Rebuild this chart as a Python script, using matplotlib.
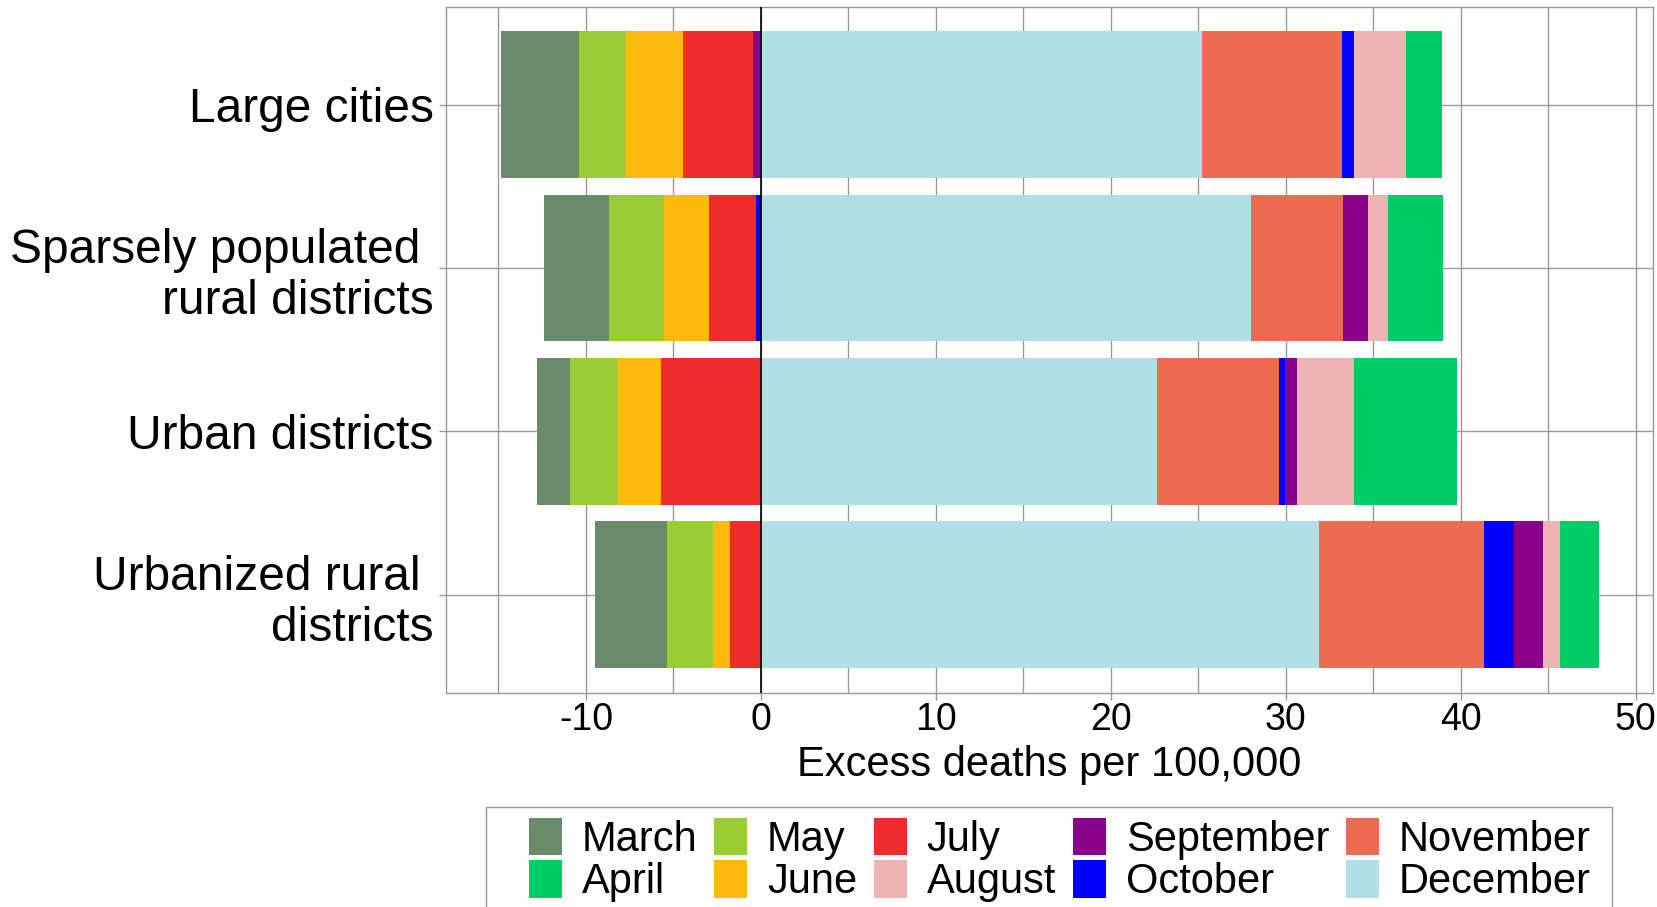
import matplotlib
matplotlib.use("Agg")
import matplotlib.pyplot as plt
import matplotlib.patches as mpatches
import numpy as np

plt.rcParams['font.family'] = ['Liberation Sans', 'DejaVu Sans']
plt.rcParams['axes.unicode_minus'] = False

categories = ["Large cities", "Sparsely populated \nrural districts",
              "Urban districts", "Urbanized rural \ndistricts"]
months = ["March", "April", "May", "June", "July", "August",
          "September", "October", "November", "December"]

march = [-4.46, -3.69, -1.92, -4.14]
april = [2.06, 3.14, 5.87, 2.22]
may = [-2.65, -3.15, -2.73, -2.63]
june = [-3.25, -2.55, -2.46, -0.97]
july = [-4.04, -2.70, -5.71, -1.75]
august = [2.97, 1.15, 3.25, 0.94]
september = [-0.44, 1.40, 0.69, 1.66]
october = [0.68, -0.29, 0.36, 1.72]
november = [8.00, 5.28, 6.95, 9.46]
december = [25.22, 28.02, 22.65, 31.89]

values = [march, april, may, june, july, august, september, october, november, december]
colors = ["#698B69", "#00CD66", "#9ACD32", "#FFB90F", "#EE2C2C", "#EEB4B4",
          "#8B008B", "#0000FF", "#EE6A50", "#B0E0E6"]

fig = plt.figure(figsize=(16.58, 9.07), dpi=100)
ax = fig.add_axes([0.269, 0.2364, 0.728, 0.7562])

ypos = np.arange(len(categories), 0, -1)
pos_base = np.zeros(len(categories))
neg_base = np.zeros(len(categories))
handles = {}
# stack from zero outward: last month nearest zero
for i in range(len(months) - 1, -1, -1):
    v = np.array(values[i])
    left = np.where(v >= 0, pos_base, neg_base)
    b = ax.barh(ypos, v, left=left, height=0.9, color=colors[i], linewidth=0, zorder=2)
    handles[months[i]] = b
    pos_base = pos_base + np.where(v >= 0, v, 0)
    neg_base = neg_base + np.where(v < 0, v, 0)

ax.axvline(0, color="black", linewidth=1.2, zorder=3)

ax.set_xlim(-18, 51)
ax.set_ylim(0.4, 4.6)
ax.set_xticks([-10, 0, 10, 20, 30, 40, 50])
ax.set_xticks([-15, -5, 5, 15, 25, 35, 45], minor=True)
ax.set_yticks(ypos)
ax.set_yticklabels(categories, fontsize=34.5, linespacing=1.17)
ax.tick_params(axis='x', which='major', labelsize=27, length=5, width=1, color="#999999", pad=2)
ax.tick_params(axis='x', which='minor', length=0)
ax.tick_params(axis='y', length=5, width=1, color="#999999", pad=4)
ax.grid(True, which='both', color="#999999", linewidth=1.0, zorder=0)
ax.set_axisbelow(True)
for s in ax.spines.values():
    s.set_color("#999999")
    s.set_linewidth(1.0)

ax.set_xlabel("Excess deaths per 100,000", fontsize=30, labelpad=5)

# legend box (drawn separately for the wider side margins)
fig.patches.append(mpatches.Rectangle((486 / 1658, -0.05), (1612 - 486) / 1658, 0.05 + 1 - 807 / 907,
                                      transform=fig.transFigure, facecolor="white",
                                      edgecolor="#999999", linewidth=1.0, zorder=0))
leg = fig.legend([handles[m] for m in months], months, loc="upper left",
                 bbox_to_anchor=(0.3189, 0.0985), ncol=5, fontsize=30,
                 frameon=False, handlelength=0.8, handleheight=1.02, handletextpad=0.47,
                 columnspacing=0.4, labelspacing=0.0, borderpad=0.0,
                 borderaxespad=0)

fig.savefig("out.png", dpi=100)
